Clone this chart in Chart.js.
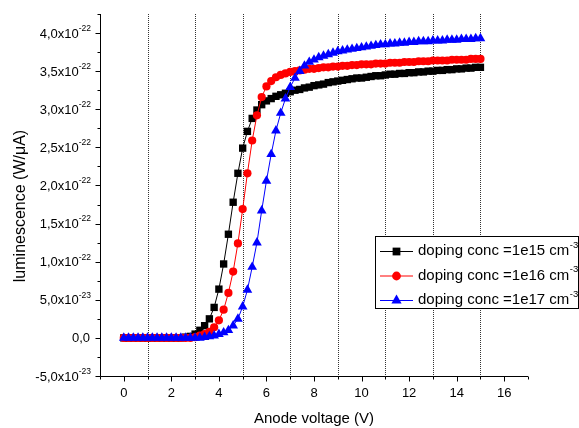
<!DOCTYPE html>
<html><head><meta charset="utf-8">
<script src="https://cdn.jsdelivr.net/npm/chart.js@4.4.0/dist/chart.umd.min.js"></script>
<style>html,body{margin:0;padding:0;background:#fff}#wrap{position:relative;width:579px;height:428px}</style>
</head><body><div id="wrap"><canvas id="c" width="579" height="428"></canvas></div>
<script>
// Anode voltage (V)
const voltage = [0,0.2,0.4,0.6,0.8,1,1.2,1.4,1.6,1.8,2,2.2,2.4,2.6,2.8,3,3.2,3.4,3.6,3.8,4,4.2,4.4,4.6,4.8,5,5.2,5.4,5.6,5.8,6,6.2,6.4,6.6,6.8,7,7.2,7.4,7.6,7.8,8,8.2,8.4,8.6,8.8,9,9.2,9.4,9.6,9.8,10,10.2,10.4,10.6,10.8,11,11.2,11.4,11.6,11.8,12,12.2,12.4,12.6,12.8,13,13.2,13.4,13.6,13.8,14,14.2,14.4,14.6,14.8,15];
// luminescence in units of 1e-22 W/uA
const lum1e15 = [0,0,0,0,0,0,0,0,0,0,0,0,0,0.01,0.02,0.05,0.10,0.16,0.25,0.40,0.64,0.97,1.36,1.78,2.16,2.49,2.71,2.88,2.99,3.06,3.11,3.14,3.17,3.19,3.21,3.23,3.25,3.26,3.28,3.29,3.31,3.32,3.33,3.35,3.36,3.37,3.38,3.39,3.40,3.41,3.41,3.42,3.43,3.44,3.44,3.45,3.46,3.46,3.47,3.47,3.48,3.48,3.49,3.49,3.50,3.50,3.51,3.51,3.52,3.52,3.53,3.53,3.54,3.54,3.55,3.55];
const lum1e16 = [0,0,0,0,0,0,0,0,0,0,0,0,0,0,0,0.01,0.03,0.05,0.08,0.14,0.23,0.37,0.59,0.87,1.24,1.69,2.16,2.59,2.92,3.16,3.30,3.37,3.42,3.45,3.47,3.49,3.50,3.51,3.52,3.53,3.53,3.54,3.55,3.55,3.56,3.56,3.57,3.57,3.58,3.58,3.59,3.59,3.59,3.60,3.60,3.60,3.61,3.61,3.61,3.62,3.62,3.62,3.63,3.63,3.63,3.64,3.64,3.64,3.64,3.65,3.65,3.65,3.65,3.66,3.66,3.66];
const lum1e17 = [0,0,0,0,0,0,0,0,0,0,0,0,0,0,0,0,0,0.01,0.02,0.03,0.05,0.07,0.10,0.16,0.25,0.41,0.63,0.93,1.25,1.67,2.06,2.41,2.72,2.95,3.14,3.29,3.41,3.50,3.57,3.62,3.65,3.68,3.70,3.72,3.74,3.76,3.77,3.78,3.79,3.80,3.81,3.82,3.83,3.84,3.85,3.85,3.86,3.86,3.87,3.87,3.88,3.88,3.89,3.89,3.89,3.90,3.90,3.90,3.91,3.91,3.91,3.92,3.92,3.92,3.93,3.93];
const seriesNames = ['doping conc =1e15 cm', 'doping conc =1e16 cm', 'doping conc =1e17 cm'];
const seriesNameSup = '-3';
const yTickValues = [-0.5,0,0.5,1.0,1.5,2.0,2.5,3.0,3.5,4.0];
const yTickMain = ['-5,0x10','0,0','5,0x10','1,0x10','1,5x10','2,0x10','2,5x10','3,0x10','3,5x10','4,0x10'];
const yTickExp = ['-23','','-23','-22','-22','-22','-22','-22','-22','-22'];
const xTickValues = [0,2,4,6,8,10,12,14,16];
const xTickLabels = ['0','2','4','6','8','10','12','14','16'];
const xGridValues = [1,3,5,7,9,11,13,15];
const xTitle = 'Anode voltage (V)';
const yTitle = 'luminescence (W/\u03bcA)';

const FONT = '"Liberation Sans", Arial, sans-serif';
const colors = ['#000000', '#ff0000', '#0000ff'];
const styles = ['rect', 'circle', 'triangle'];
const radii = [5.2, 4.1, 5.6];
const series = [lum1e15, lum1e16, lum1e17];

const datasets = series.map((s, i) => ({
  label: seriesNames[i] + seriesNameSup,
  data: voltage.map((v, k) => ({x: v, y: s[k]})),
  borderColor: colors[i],
  backgroundColor: colors[i],
  borderWidth: 1,
  pointStyle: styles[i],
  pointRadius: radii[i],
  pointBorderWidth: 0,
  pointBackgroundColor: colors[i],
  tension: 0,
  order: 2 - i
}));

function drawMarker(ctx, style, x, y, r, color) {
  ctx.save();
  ctx.fillStyle = color;
  ctx.beginPath();
  if (style === 'rect') {
    const s = r * Math.SQRT1_2;
    ctx.rect(x - s, y - s, 2 * s, 2 * s);
  } else if (style === 'circle') {
    ctx.arc(x, y, r, 0, Math.PI * 2);
  } else {
    const w = r * Math.sqrt(3) / 2;
    ctx.moveTo(x, y - r);
    ctx.lineTo(x + w, y + r / 2);
    ctx.lineTo(x - w, y + r / 2);
    ctx.closePath();
  }
  ctx.fill();
  ctx.restore();
}

const decor = {
  id: 'decor',
  beforeDatasetsDraw(chart) {
    const {ctx, chartArea: a, scales: {x}} = chart;
    ctx.save();
    ctx.strokeStyle = '#333';
    ctx.lineWidth = 1;
    ctx.setLineDash([1, 1]);
    xGridValues.forEach(v => {
      const px = Math.round(x.getPixelForValue(v)) + 0.5;
      ctx.beginPath();
      ctx.moveTo(px, a.top);
      ctx.lineTo(px, a.bottom);
      ctx.stroke();
    });
    ctx.restore();
  },
  afterDraw(chart) {
    const {ctx, chartArea: a, scales: {x, y}} = chart;
    ctx.save();
    ctx.strokeStyle = '#000';
    ctx.lineWidth = 1;
    const L = a.left + 0.5, B = a.bottom + 0.5;
    ctx.beginPath();
    ctx.moveTo(L, a.top); ctx.lineTo(L, B);
    ctx.lineTo(a.right, B);
    ctx.stroke();
    // y ticks
    for (let v = -0.5; v <= 4.26; v += 0.25) {
      const major = Math.abs(v * 2 - Math.round(v * 2)) < 1e-6;
      const py = Math.round(y.getPixelForValue(v)) + 0.5;
      ctx.beginPath();
      ctx.moveTo(L, py); ctx.lineTo(L - (major ? 5 : 3), py);
      ctx.stroke();
    }
    // x ticks
    for (let v = -1; v <= 17; v += 1) {
      const major = v % 2 === 0;
      const px = Math.round(x.getPixelForValue(v)) + 0.5;
      ctx.beginPath();
      ctx.moveTo(px, B); ctx.lineTo(px, B + (major ? 5 : 3));
      ctx.stroke();
    }
    ctx.fillStyle = '#000';
    // x labels
    ctx.font = '13px ' + FONT;
    ctx.textAlign = 'center';
    ctx.textBaseline = 'middle';
    xTickValues.forEach((v, i) => ctx.fillText(xTickLabels[i], x.getPixelForValue(v), 393));
    // y labels
    yTickValues.forEach((v, i) => {
      const py = y.getPixelForValue(v);
      let right = 91;
      ctx.textAlign = 'right';
      ctx.textBaseline = 'middle';
      if (yTickExp[i]) {
        ctx.font = '8.5px ' + FONT;
        const w = ctx.measureText(yTickExp[i]).width;
        ctx.fillText(yTickExp[i], right, py - 4.5);
        right -= w;
      } else {
        right = 90;
      }
      ctx.font = '13px ' + FONT;
      ctx.fillText(yTickMain[i], right, py + 1);
    });
    // titles
    ctx.font = '15px ' + FONT;
    ctx.textAlign = 'center';
    ctx.fillText(xTitle, 314, 419);
    ctx.save();
    ctx.translate(21, 206);
    ctx.rotate(-Math.PI / 2);
    ctx.font = '16px ' + FONT;
    ctx.fillText(yTitle, 0, 0);
    ctx.restore();
    // legend
    const bx = 375.5, by = 236.5, bw = 203, bh = 72;
    ctx.fillStyle = '#fff';
    ctx.fillRect(bx, by, bw, bh);
    ctx.strokeStyle = '#000';
    ctx.strokeRect(bx, by, bw, bh);
    chart.data.datasets.forEach((d, i) => {
      const ly = 251 + 24.5 * i;
      ctx.strokeStyle = colors[i];
      ctx.lineWidth = 1;
      ctx.beginPath();
      ctx.moveTo(380, ly + 0.5); ctx.lineTo(413, ly + 0.5);
      ctx.stroke();
      drawMarker(ctx, styles[i], 396.5, ly + 0.5, radii[i] + 0.3, colors[i]);
      ctx.fillStyle = '#000';
      ctx.textAlign = 'left';
      ctx.textBaseline = 'middle';
      ctx.font = '15px ' + FONT;
      ctx.fillText(seriesNames[i], 418, ly);
      const w = ctx.measureText(seriesNames[i]).width;
      ctx.font = '9.5px ' + FONT;
      ctx.fillText(seriesNameSup, 418 + w + 0.5, ly - 6);
    });
    ctx.restore();
  }
};

new Chart(document.getElementById('c'), {
  type: 'line',
  data: {datasets},
  options: {
    responsive: false,
    animation: false,
    devicePixelRatio: 1,
    layout: {padding: {left: 0, top: 14, right: 51, bottom: 0}},
    plugins: {legend: {display: false}, tooltip: {enabled: false}},
    scales: {
      x: {
        type: 'linear', min: -1, max: 17,
        grid: {display: false}, border: {display: false},
        ticks: {display: false},
        afterFit(s) { s.height = 52; }
      },
      y: {
        type: 'linear', min: -0.5, max: 4.25,
        grid: {display: false}, border: {display: false},
        ticks: {display: false},
        afterFit(s) { s.width = 100; }
      }
    }
  },
  plugins: [decor]
});
</script></body></html>
